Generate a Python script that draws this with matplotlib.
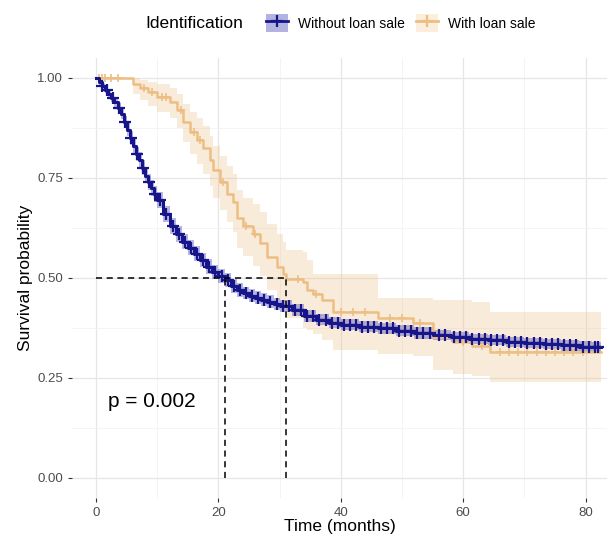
import numpy as np
import matplotlib.pyplot as plt
from matplotlib.patches import Patch
from matplotlib.lines import Line2D

plt.rcParams['font.family'] = ['Liberation Sans', 'DejaVu Sans']

# Without loan sale (Kaplan-Meier steps)
blue_t = [0, 0.5, 1, 1.5, 2, 2.5, 3, 3.5, 4, 4.5, 5, 5.5, 6, 6.5, 7, 7.5, 8, 8.5, 9, 9.5,
          10, 11, 12, 13, 14, 15, 16, 17, 18, 19, 20, 21, 22, 23, 24, 25, 26, 27, 28, 29,
          30, 32, 34, 36, 38, 40, 43, 46, 49, 52, 55, 58, 61, 64, 67, 70, 73, 76, 79, 81, 82.5]
blue_s = [1.0, 0.99, 0.98, 0.97, 0.96, 0.95, 0.94, 0.925, 0.91, 0.89, 0.87, 0.85, 0.83, 0.81, 0.795, 0.775, 0.755, 0.74, 0.725, 0.71,
          0.695, 0.66, 0.63, 0.61, 0.59, 0.575, 0.56, 0.545, 0.528, 0.515, 0.505, 0.495, 0.48, 0.47, 0.462, 0.455, 0.45, 0.445, 0.44, 0.435,
          0.43, 0.42, 0.405, 0.395, 0.388, 0.383, 0.378, 0.374, 0.368, 0.362, 0.357, 0.352, 0.347, 0.344, 0.34, 0.337, 0.334, 0.331, 0.328, 0.326, 0.326]
blue_lo = [1.0, 0.983, 0.972, 0.961, 0.95, 0.939, 0.928, 0.912, 0.896, 0.875, 0.854, 0.833, 0.812, 0.792, 0.776, 0.756, 0.736, 0.72, 0.705, 0.69,
           0.675, 0.64, 0.61, 0.59, 0.571, 0.556, 0.541, 0.527, 0.51, 0.497, 0.487, 0.478, 0.463, 0.453, 0.446, 0.439, 0.434, 0.429, 0.424, 0.42,
           0.415, 0.405, 0.39, 0.381, 0.374, 0.369, 0.364, 0.36, 0.354, 0.348, 0.344, 0.339, 0.334, 0.331, 0.327, 0.324, 0.321, 0.318, 0.315, 0.313, 0.313]
blue_hi = [1.0, 0.997, 0.988, 0.979, 0.97, 0.961, 0.952, 0.938, 0.924, 0.905, 0.886, 0.867, 0.848, 0.828, 0.814, 0.794, 0.774, 0.76, 0.745, 0.73,
           0.715, 0.68, 0.65, 0.63, 0.609, 0.594, 0.579, 0.563, 0.546, 0.533, 0.523, 0.512, 0.497, 0.487, 0.478, 0.471, 0.466, 0.461, 0.456, 0.45,
           0.445, 0.435, 0.42, 0.409, 0.402, 0.397, 0.392, 0.388, 0.382, 0.376, 0.37, 0.365, 0.36, 0.357, 0.353, 0.35, 0.347, 0.344, 0.341, 0.339, 0.339]
blue_cens = [1, 1.8, 2.8, 3.8, 4.7, 5.7, 6.7, 7.7, 8.7, 9.7, 10.5, 11.5, 12.5, 13.5, 14.5, 15.5, 16.5, 17.5,
             18.5, 19.5, 20.5, 21.5, 22.5, 23.5, 24.5, 25.5, 26.5, 27.5, 28.5, 29.5, 30.5, 31.5, 32.5, 33.5, 34.5,
             35.5, 36.5, 37.5, 38.5, 39.5, 40.5, 41.5, 42.5, 43.5, 44.5, 45.5, 46.5, 47.5, 48.5, 49.5, 50.5, 51.5,
             52.5, 53.5, 54.5, 56, 57, 58.5, 59.5, 60.5, 61.5, 62.5, 63.5, 64.5, 65.5, 66.5, 67.5, 68.5, 69.5,
             70.5, 71.5, 72.5, 73.5, 74.5, 75.5, 76.5, 77.5, 78.5, 79.5, 80.5, 81.5, 82]

# With loan sale
orng_t = [0, 6, 7.2, 8.5, 10, 12, 13.2, 14.2, 15.3, 16.5, 17.5, 18.6, 19.1, 20.2, 21.4, 22.4, 23, 24, 25.6, 26.8,
          27.9, 29.5, 30.5, 31, 33.8, 34.5, 35.5, 37, 38.7, 46, 51.8, 55, 58.3, 61.5, 64.3, 82.5]
orng_s = [1.0, 0.985, 0.975, 0.965, 0.953, 0.94, 0.92, 0.89, 0.865, 0.845, 0.825, 0.795, 0.77, 0.74, 0.71, 0.69, 0.65, 0.63, 0.61, 0.587,
          0.553, 0.528, 0.51, 0.497, 0.49, 0.47, 0.46, 0.445, 0.415, 0.4, 0.387, 0.353, 0.34, 0.33, 0.315, 0.315]
orng_lo = [1.0, 0.96, 0.945, 0.93, 0.915, 0.9, 0.875, 0.84, 0.81, 0.785, 0.76, 0.73, 0.7, 0.67, 0.64, 0.615, 0.575, 0.555, 0.53, 0.505,
           0.47, 0.445, 0.425, 0.4, 0.375, 0.37, 0.36, 0.345, 0.32, 0.31, 0.305, 0.27, 0.26, 0.255, 0.24, 0.24]
orng_hi = [1.0, 1.0, 0.995, 0.99, 0.985, 0.975, 0.96, 0.935, 0.915, 0.9, 0.88, 0.855, 0.83, 0.805, 0.78, 0.76, 0.72, 0.7, 0.685, 0.665,
           0.635, 0.61, 0.59, 0.57, 0.565, 0.545, 0.51, 0.51, 0.51, 0.45, 0.45, 0.445, 0.445, 0.44, 0.415, 0.415]
orng_cens = [0.5, 1, 1.5, 2.5, 3.5, 7.8, 9.2, 10.8, 11.5, 13.8, 16, 17, 20.8, 24.5, 26, 33, 36, 40, 42, 44, 48, 50, 53, 57, 60,
             63, 66, 67.5, 69, 70.5, 72, 73.5, 75, 76.5, 78, 79.5]

median_blue = 21
median_orng = 31
p_label = "p = 0.002"

blue = "#16168a"
orange = "#EDBE83"


def step_at(t, ts, ss):
    idx = np.searchsorted(ts, t, side='right') - 1
    return np.array(ss)[idx]


fig = plt.figure(figsize=(6.07, 5.40), dpi=100)
ax = fig.add_axes([0.119, 0.078, 0.881, 0.815])

ax.fill_between(orng_t, orng_lo, orng_hi, step='post', color=orange, alpha=0.3, lw=0)
ax.fill_between(blue_t, blue_lo, blue_hi, step='post', color="#3333b3", alpha=0.35, lw=0)

ax.step(orng_t, orng_s, where='post', color=orange, lw=1.8)
ax.plot(orng_cens, step_at(orng_cens, orng_t, orng_s), '+', color=orange, ms=6, mew=1.2)
ax.step(blue_t, blue_s, where='post', color=blue, lw=2.2)
ax.plot(blue_cens, step_at(blue_cens, blue_t, blue_s), '+', color=blue, ms=8, mew=1.6)

# median lines
ax.plot([0, median_orng], [0.5, 0.5], ls=(0, (4, 3)), color='black', lw=1.1)
ax.plot([median_blue, median_blue], [0, 0.5], ls=(0, (4, 3)), color='black', lw=1.1)
ax.plot([median_orng, median_orng], [0, 0.5], ls=(0, (4, 3)), color='black', lw=1.1)

ax.text(2, 0.19, p_label, fontsize=15, ha='left', va='center')

ax.set_xlim(-3.9, 83.5)
ax.set_ylim(-0.05, 1.05)
ax.set_xticks([0, 20, 40, 60, 80])
ax.set_xticks([10, 30, 50, 70], minor=True)
ax.set_yticks([0, 0.25, 0.5, 0.75, 1.0])
ax.set_yticklabels(["0.00", "0.25", "0.50", "0.75", "1.00"])
ax.set_yticks([0.125, 0.375, 0.625, 0.875], minor=True)
ax.grid(True, which='major', color='#e6e6e6', lw=0.9)
ax.grid(True, which='minor', color='#f2f2f2', lw=0.6)
ax.set_axisbelow(True)
for s in ax.spines.values():
    s.set_visible(False)
ax.tick_params(which='major', length=3, color='#333333', labelcolor='#4d4d4d', labelsize=9.5)
ax.tick_params(which='minor', length=0)
ax.set_xlabel("Time (months)", fontsize=12.5, labelpad=0)
ax.set_ylabel("Survival probability", fontsize=12.5, labelpad=3)

fig.text(0.24, 0.957, "Identification", fontsize=12.5, ha='left', va='center')
h_blue = (Patch(facecolor="#b3b3e0", edgecolor='none'),
          Line2D([], [], color=blue, lw=2, marker='+', ms=9, mew=1.6))
h_orng = (Patch(facecolor="#fbeedc", edgecolor='none'),
          Line2D([], [], color=orange, lw=2, marker='+', ms=9, mew=1.6))
fig.legend([h_blue, h_orng], ["Without loan sale", "With loan sale"], ncol=2,
           loc='center left', bbox_to_anchor=(0.418, 0.957), frameon=False, fontsize=10,
           handlelength=1.6, handleheight=1.6, columnspacing=0.8, handletextpad=0.7)

fig.savefig("out.png", dpi=100, facecolor='white')
